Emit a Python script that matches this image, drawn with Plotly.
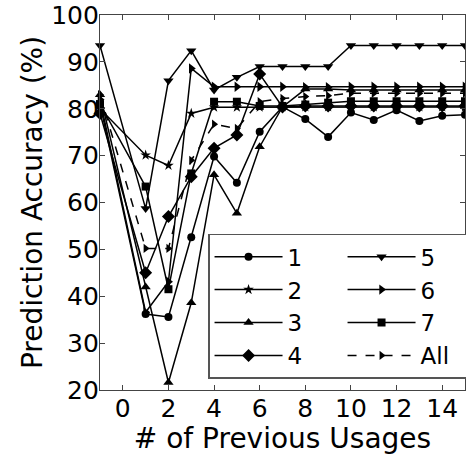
import plotly.graph_objects as go

# Number of previous usages (x) and prediction accuracy (%) per group
usages = [-1, 1, 2, 3, 4, 5, 6, 7, 8, 9, 10, 11, 12, 13, 14, 15]

acc_1 = [81.0, 36.2, 35.6, 52.6, 69.8, 64.2, 75.1, 80.4, 77.8, 74.0, 79.2, 77.6, 79.7, 77.4, 78.5, 78.7]
acc_2 = [80.0, 70.1, 67.9, 79.0, 80.3, 80.3, 80.3, 80.4, 80.4, 80.4, 80.4, 80.4, 80.4, 80.4, 80.4, 80.4]
acc_3 = [83.0, 42.0, 21.6, 38.6, 65.9, 57.7, 71.9, 80.4, 84.2, 84.2, 84.0, 84.0, 84.0, 84.0, 84.0, 84.0]
acc_4 = [79.0, 45.0, 57.0, 65.5, 71.6, 74.4, 87.4, 80.4, 80.6, 80.6, 80.6, 80.6, 80.6, 80.6, 80.6, 80.6]
acc_5 = [93.5, 58.7, 86.0, 92.4, 84.0, 86.7, 89.0, 89.0, 89.0, 89.0, 93.5, 93.5, 93.5, 93.5, 93.5, 93.5]
acc_6 = [82.0, 36.6, 43.1, 88.6, 84.7, 84.7, 84.7, 84.7, 84.6, 84.6, 84.7, 84.7, 84.7, 84.7, 84.7, 84.7]
acc_7 = [81.0, 63.4, 41.5, 66.2, 81.5, 81.5, 80.6, 80.6, 80.9, 81.3, 81.6, 81.6, 81.6, 81.6, 81.6, 81.6]
acc_all = [83.0, 50.2, 50.2, 69.0, 76.7, 75.8, 81.5, 82.2, 82.6, 82.8, 83.3, 83.3, 83.3, 83.3, 83.3, 83.3]

series_names = ["1", "2", "3", "4", "5", "6", "7", "All"]
x_ticks = [0, 2, 4, 6, 8, 10, 12, 14]
y_ticks = [20, 30, 40, 50, 60, 70, 80, 90, 100]

FONT = "DejaVu Sans"
INK = "#000000"

styles = [
    dict(symbol="circle", size=8, dash="solid"),
    dict(symbol="star", size=8, dash="solid"),
    dict(symbol="triangle-up", size=9, dash="solid"),
    dict(symbol="diamond", size=10, dash="solid"),
    dict(symbol="triangle-down", size=9, dash="solid"),
    dict(symbol="triangle-right", size=9, dash="solid"),
    dict(symbol="square", size=8, dash="solid"),
    dict(symbol="triangle-right", size=8, dash="dash"),
]
# Legend is laid out row by row with two entries per row,
# so ranks interleave the two columns (1-4 left, 5-All right).
ranks = [1, 3, 5, 7, 2, 4, 6, 8]

fig = go.Figure()
all_series = [acc_1, acc_2, acc_3, acc_4, acc_5, acc_6, acc_7, acc_all]
for name, vals, st, rk in zip(series_names, all_series, styles, ranks):
    fig.add_trace(go.Scatter(
        x=usages, y=vals, name=name, mode="lines+markers",
        line=dict(color=INK, width=1.5, dash=st["dash"]),
        marker=dict(symbol=st["symbol"], size=st["size"], color=INK,
                    line=dict(width=0)),
        legendrank=rk, cliponaxis=False,
    ))

axis_common = dict(
    showgrid=False, zeroline=False, showline=True, linecolor="#444444",
    linewidth=1.2, mirror="allticks", ticks="inside", ticklen=5,
    tickcolor="#444444", tickwidth=1, automargin=False,
    tickfont=dict(family=FONT, size=25, color=INK),
)

fig.update_layout(
    width=466, height=455,
    margin=dict(l=100, r=1, t=15, b=65, autoexpand=False),
    paper_bgcolor="white", plot_bgcolor="white",
    font=dict(family=FONT, size=24, color=INK),
    xaxis=dict(range=[-1, 15], tickvals=x_ticks, ticklabelstandoff=-4,
               title=dict(text="# of Previous Usages", standoff=4,
                          font=dict(family=FONT, size=28, color=INK)),
               **axis_common),
    yaxis=dict(range=[20, 100], tickvals=y_ticks, ticklabelstandoff=-5,
               title=dict(text="Prediction Accuracy (%)", standoff=0,
                          font=dict(family=FONT, size=28, color=INK)),
               **axis_common),
    legend=dict(
        orientation="h", x=0.296, y=0.03, xanchor="left", yanchor="bottom",
        entrywidth=50, entrywidthmode="pixels",
        bgcolor="white", bordercolor="#555555", borderwidth=1.5,
        font=dict(family=FONT, size=23, color=INK),
        traceorder="normal", itemwidth=68,
    ),
    showlegend=True,
)

fig.write_html("out.html")
